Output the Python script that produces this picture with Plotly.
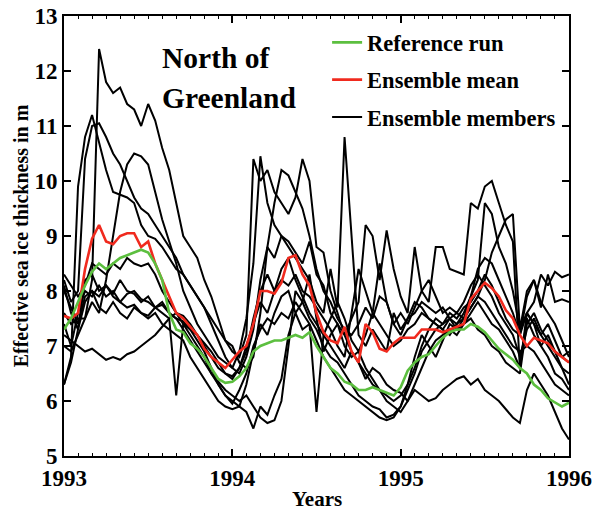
import numpy as np
import plotly.graph_objects as go

# Half-monthly time axis, Jan 1993 - Jan 1996
years = 1993 + np.arange(73) / 24

reference_run = [
    7.3, 7.5, 7.8, 8.1, 8.35, 8.5, 8.4, 8.5, 8.6, 8.65, 8.7, 8.75, 8.7, 8.5, 8.2, 7.6, 7.3, 7.25, 7.05, 6.95, 6.8, 6.6, 6.4, 6.33, 6.35,
    6.45, 6.6, 6.9, 7.0, 7.05, 7.1, 7.1, 7.15, 7.2, 7.15, 7.25, 7.0, 6.8, 6.6, 6.5, 6.35, 6.3, 6.2, 6.2, 6.25, 6.2, 6.15, 6.1, 6.25,
    6.55, 6.7, 6.8, 6.85, 7.0, 7.15, 7.25, 7.3, 7.3, 7.4, 7.35, 7.25, 7.1, 6.95, 6.85, 6.75, 6.6, 6.5, 6.3, 6.2, 6.05, 5.98, 5.9, 5.97,
]

ensemble_mean = [
    7.55, 7.5, 7.6, 8.4, 8.95, 9.2, 8.9, 8.85, 9.0, 9.05, 9.05, 8.8, 8.9, 8.5, 8.2, 7.9, 7.6, 7.5, 7.35, 7.2, 6.95, 6.8, 6.7, 6.6, 6.75,
    6.9, 7.0, 7.4, 8.0, 8.0, 7.95, 8.15, 8.6, 8.65, 8.3, 8.1, 7.6, 7.25, 7.1, 7.05, 7.35, 6.9, 6.7, 7.4, 7.25, 6.95, 6.9, 7.05, 7.15,
    7.15, 7.15, 7.3, 7.3, 7.3, 7.25, 7.3, 7.35, 7.4, 7.85, 8.0, 8.15, 8.05, 7.9, 7.65, 7.5, 7.2, 7.0, 7.15, 7.1, 7.05, 6.9, 6.8, 6.7,
]

member_01 = [
    7.0, 6.9, 7.2, 7.5, 8.2, 12.4, 11.8, 11.6, 11.7, 11.4, 11.3, 11.0, 11.4, 11.1, 10.6, 10.2, 9.6, 9.0, 8.8, 8.6, 8.2, 7.9, 7.5, 7.1, 6.9,
    6.8, 7.2, 10.4, 10.0, 10.2, 9.8, 9.6, 9.4, 9.7, 10.4, 10.0, 8.8, 8.7, 8.0, 7.6, 7.2, 7.5, 7.8, 9.2, 9.0, 8.2, 9.1, 8.4, 7.9,
    7.6, 8.8, 8.0, 7.8, 8.8, 8.8, 8.4, 8.35, 8.3, 9.6, 9.5, 9.9, 10.0, 9.6, 9.2, 8.9, 6.6, 7.6, 7.4, 7.2, 7.0, 6.8, 6.6, 6.5,
]
member_02 = [
    6.3, 6.8, 9.9, 10.8, 11.2, 10.7, 10.2, 9.8, 9.75, 9.7, 9.6, 9.2, 9.0, 8.95, 8.8, 8.6, 8.4, 8.3, 8.1, 7.9, 7.7, 7.5, 7.3, 7.1, 7.0,
    6.7, 6.6, 6.8, 7.6, 8.8, 9.6, 10.2, 10.1, 9.8, 9.5, 9.0, 8.4, 8.0, 7.8, 7.5, 7.3, 7.2, 7.4, 7.7, 7.5, 7.9, 7.8, 7.4, 7.2,
    7.5, 7.6, 7.8, 7.7, 7.6, 7.7, 7.5, 7.4, 7.6, 7.9, 8.2, 9.6, 9.4, 8.8, 8.5, 8.0, 7.3, 7.6, 7.4, 7.0, 7.2, 6.9, 6.6, 6.3,
]
member_03 = [
    8.2, 7.8, 8.0, 10.4, 11.0, 11.05, 10.8, 10.5, 10.3, 10.0, 9.7, 9.5, 9.4, 9.2, 9.0, 8.8, 8.6, 8.3, 8.1, 7.9, 7.7, 7.4, 7.1, 6.8, 6.6,
    6.9, 7.5, 8.5, 10.45, 9.6, 9.2, 9.0, 8.8, 8.6, 8.4, 8.2, 7.8, 7.6, 8.4, 7.7, 10.8, 9.0, 7.2, 7.0, 7.3, 7.1, 6.9, 7.6, 7.3,
    7.5, 7.8, 7.7, 7.5, 7.4, 7.3, 7.5, 7.3, 7.4, 7.6, 7.8, 7.6, 7.4, 7.3, 7.1, 6.9, 6.6, 7.5, 7.2, 7.0, 6.8, 6.5, 6.4, 6.2,
]
member_04 = [
    7.6, 7.4, 7.5, 7.5, 7.8, 7.6, 8.2, 9.0, 9.8, 10.3, 10.5, 10.45, 10.3, 9.8, 9.3, 8.9, 8.5, 8.0, 7.7, 7.4, 7.2, 7.0, 6.8, 6.7, 6.6,
    6.5, 6.8, 7.3, 8.2, 8.8, 8.6, 9.0, 8.9, 8.7, 8.5, 8.9, 8.3, 8.1, 7.6, 7.4, 7.0, 6.8, 6.9, 6.6, 6.4, 6.2, 6.0, 5.9, 5.8,
    6.0, 6.3, 6.6, 6.9, 7.1, 7.2, 7.3, 7.2, 7.4, 7.5, 7.3, 7.2, 7.0, 6.9, 6.7, 6.6, 6.5, 7.4, 7.6, 7.3, 7.1, 6.9, 6.8, 6.9,
]
member_05 = [
    7.2, 7.1, 7.0, 6.9, 6.95, 6.85, 6.75, 6.8, 6.75, 6.85, 6.9, 7.0, 7.1, 7.2, 7.35, 7.5, 7.6, 7.4, 7.3, 7.1, 6.9, 6.6, 6.3, 6.1, 6.0,
    5.9, 5.8, 5.5, 5.9, 5.75, 6.1, 6.4, 7.2, 7.6, 7.3, 7.4, 5.8, 7.2, 7.0, 6.8, 6.6, 6.9, 6.7, 6.4, 6.6, 6.5, 6.3, 6.2, 6.15,
    6.0, 6.2, 6.1, 6.0, 6.05, 6.2, 6.3, 6.4, 6.45, 6.3, 6.4, 6.2, 6.1, 6.0, 5.85, 5.7, 5.6, 6.2, 6.5, 6.3, 6.1, 5.8, 5.5, 5.3,
]
member_06 = [
    6.3, 6.7, 7.3, 7.8, 8.0, 7.9, 8.1, 7.9, 7.8, 7.95, 8.0, 7.85, 7.8, 7.7, 7.75, 7.6, 7.5, 7.3, 7.1, 6.9, 6.7, 6.5, 6.35, 6.2, 6.1,
    6.0, 6.1, 5.9, 5.7, 5.6, 5.65, 6.0, 7.0, 8.0, 7.8, 7.5, 7.3, 7.0, 6.8, 6.7, 6.5, 6.3, 6.1, 6.0, 5.9, 5.85, 5.7, 5.75, 5.9,
    6.3, 6.6, 7.0, 7.3, 7.5, 7.4, 7.6, 7.5, 7.7, 7.8, 8.0, 8.3, 8.1, 7.8, 7.5, 7.3, 7.2, 7.6, 7.8, 8.3, 8.1, 8.35, 8.25, 8.3,
]
member_07 = [
    8.3, 8.1, 7.9, 8.1, 8.5, 8.4, 8.3, 8.5, 8.4, 8.6, 8.5, 8.45, 8.5, 8.3, 8.0, 7.8, 7.6, 7.55, 7.4, 7.2, 7.0, 6.8, 6.6, 6.5, 6.4,
    6.6, 7.0, 7.4, 7.8, 7.6, 8.0, 8.2, 8.1, 8.3, 8.0, 7.9, 7.7, 7.5, 7.3, 7.0, 6.8, 7.6, 8.4, 8.0, 7.6, 7.4, 7.2, 7.0, 7.1,
    7.3, 7.4, 7.6, 7.5, 7.4, 7.3, 7.2, 7.4, 7.5, 7.9, 8.4, 8.6, 8.5, 8.2, 7.9, 7.6, 7.2, 7.9, 8.2, 7.8, 7.6, 7.4, 7.1, 6.8,
]
member_08 = [
    8.0, 7.7, 7.4, 7.9, 8.0, 7.7, 7.6, 7.8, 7.6, 7.5, 7.7, 7.6, 7.55, 7.7, 7.6, 7.5, 6.1, 7.4, 7.2, 7.0, 6.8, 6.5, 6.3, 6.1, 5.95,
    6.2, 6.5, 7.0, 7.3, 7.5, 7.4, 7.6, 7.5, 7.8, 7.6, 7.4, 7.1, 6.8, 6.6, 6.4, 6.2, 6.1, 6.0, 5.9, 5.8, 5.7, 5.65, 5.7, 5.9,
    6.2, 6.5, 6.9, 7.1, 7.3, 7.4, 7.5, 7.6, 7.5, 7.7, 7.9, 7.8, 7.6, 7.4, 7.2, 7.0, 6.9, 7.0, 6.9, 6.7, 6.5, 6.3, 6.2, 6.1,
]
member_09 = [
    8.1, 7.6, 7.3, 8.2, 8.3, 8.0, 8.1, 7.95, 8.2, 8.0, 7.95, 7.8, 7.9, 7.7, 7.8, 7.6, 7.5, 7.45, 7.3, 7.2, 7.05, 6.9, 6.7, 6.5, 6.45,
    6.6, 6.9, 7.5, 8.0, 8.3, 8.0, 8.4, 8.6, 8.2, 7.9, 7.6, 7.4, 7.2, 7.5, 7.8, 7.5, 7.1, 6.9, 7.2, 7.6, 8.5, 7.8, 7.4, 7.6,
    7.4, 7.7, 8.0, 8.2, 7.9, 7.6, 7.7, 7.6, 7.8, 8.1, 8.3, 8.1, 7.9, 7.6, 7.4, 7.2, 6.8, 7.3, 7.5, 7.2, 7.4, 7.1, 6.8, 6.7,
]
member_10 = [
    7.4, 7.0, 7.6, 8.0, 7.9, 8.1, 7.9, 8.0, 7.8, 7.7, 7.75, 7.6, 7.5, 7.6, 7.4, 7.3, 7.2, 7.1, 6.8, 6.6, 6.4, 6.2, 6.0, 5.9, 5.85,
    5.9, 6.3, 6.9, 7.4, 7.2, 7.6, 7.9, 8.0, 7.6, 7.8, 8.3, 7.5, 6.9, 7.2, 7.4, 7.2, 6.9, 6.7, 6.5, 6.3, 6.2, 6.1, 6.0, 6.1,
    6.3, 6.8, 7.2, 7.0, 6.8, 7.1, 7.4, 7.3, 7.5, 7.7, 7.9, 8.2, 8.7, 9.0, 9.3, 9.4, 7.3, 8.0, 8.2, 7.7, 8.3, 7.8, 7.85, 7.8,
]

members = [member_01, member_02, member_03, member_04, member_05,
           member_06, member_07, member_08, member_09, member_10]

year_ticks = [1993, 1994, 1995, 1996]
year_labels = ["1993", "1994", "1995", "1996"]
thickness_ticks = [5, 6, 7, 8, 9, 10, 11, 12, 13]

SERIF = "Liberation Serif"
GREEN = "#5cbf3f"
RED = "#f02a1e"

fig = go.Figure()

for k, m in enumerate(members):
    fig.add_trace(go.Scatter(
        x=years, y=m, mode="lines",
        line=dict(color="black", width=2),
        name="Ensemble members", legendgroup="members",
        legendrank=3, showlegend=(k == 0),
    ))

fig.add_trace(go.Scatter(
    x=years, y=ensemble_mean, mode="lines",
    line=dict(color=RED, width=2.6),
    name="Ensemble mean", legendgroup="mean", legendrank=2,
))
fig.add_trace(go.Scatter(
    x=years, y=reference_run, mode="lines",
    line=dict(color=GREEN, width=2.6),
    name="Reference run", legendgroup="ref", legendrank=1,
))

axis_common = dict(
    showline=True, linecolor="black", linewidth=2, mirror="ticks",
    ticks="inside", ticklen=7, tickwidth=1.5, tickcolor="black",
    showgrid=False, zeroline=False, automargin=False,
    tickfont=dict(family=SERIF, size=23, color="black", weight="bold"),
)

fig.update_xaxes(
    range=[1993, 1996], tickmode="array", tickvals=year_ticks, ticktext=year_labels,
    minor=dict(tick0=1993, dtick=1 / 12, ticks="inside", ticklen=3, tickwidth=1, tickcolor="black"),
    **axis_common,
)
fig.update_yaxes(
    range=[5, 13], tickmode="array", tickvals=thickness_ticks,
    title=dict(text="Effective sea ice thickness in m",
               font=dict(family=SERIF, size=20, color="black", weight="bold"), standoff=0),
    **axis_common,
)

# x-axis title placed below the tick labels
fig.add_annotation(
    xref="paper", yref="paper", x=0.5, y=-0.097, xanchor="center", yanchor="middle",
    text="Years", showarrow=False,
    font=dict(family=SERIF, size=21, color="black", weight="bold"),
)

fig.add_annotation(
    xref="paper", yref="paper", x=0.19, y=0.905, xanchor="left", yanchor="middle",
    text="North of", showarrow=False,
    font=dict(family=SERIF, size=29.5, color="black", weight="bold"),
)
fig.add_annotation(
    xref="paper", yref="paper", x=0.19, y=0.814, xanchor="left", yanchor="middle",
    text="Greenland", showarrow=False,
    font=dict(family=SERIF, size=29.5, color="black", weight="bold"),
)

fig.update_layout(
    width=593, height=513,
    margin=dict(l=64, r=24, t=16, b=57),
    plot_bgcolor="white", paper_bgcolor="white",
    showlegend=True,
    legend=dict(
        x=0.521, y=0.988, xanchor="left", yanchor="top",
        bgcolor="rgba(0,0,0,0)", borderwidth=0,
        traceorder="grouped", tracegroupgap=5,
        font=dict(family=SERIF, size=22.5, color="black", weight="bold"),
        itemwidth=30,
    ),
)

fig.write_html("out.html")
